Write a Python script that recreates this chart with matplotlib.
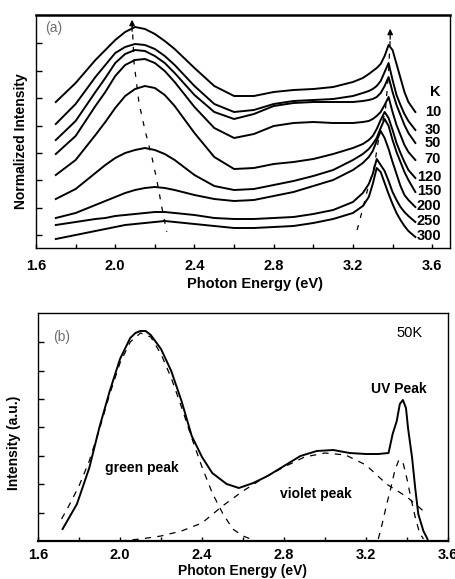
#!/usr/bin/env python3
"""Temperature dependent PL spectra (a) and 50K peak decomposition (b)."""

import matplotlib
matplotlib.use("Agg")
import matplotlib.pyplot as plt
from matplotlib.ticker import MultipleLocator

# ---- panel (a): stacked normalized spectra, offset units (arbitrary) ----
energy_a = [1.70, 1.80, 1.90, 1.95, 2.00, 2.05, 2.10, 2.15, 2.20, 2.25, 2.30,
            2.40, 2.50, 2.60, 2.70, 2.80, 2.90, 3.00, 3.10, 3.20, 3.25, 3.28,
            3.30, 3.32, 3.34, 3.36, 3.38, 3.40, 3.42, 3.44, 3.46, 3.48, 3.515]

temps = ["10", "30", "50", "70", "120", "150", "200", "250", "300"]

spectra_a = [
    [146, 165, 188, 198, 208, 216, 221, 219, 214, 207, 199, 180, 162, 152, 152, 156,
     158, 159, 161, 166, 170, 174, 177, 180, 184, 192, 203, 198, 184, 170, 156, 146, 136],
    [124, 144, 171, 183, 195, 201, 204, 203, 199, 192, 183, 162, 144, 136, 138, 144,
     147, 148, 149, 152, 155, 157, 159, 162, 167, 176, 185, 168, 153, 143, 134, 127, 118],
    [108, 127, 156, 170, 185, 194, 198, 197, 192, 185, 175, 153, 136, 129, 134, 142,
     145, 146, 146, 146, 147, 148, 149, 151, 155, 162, 171, 156, 143, 133, 123, 115, 105],
    [94, 112, 142, 156, 172, 183, 188, 189, 185, 177, 166, 141, 120, 110, 114, 122,
     125, 126, 125, 125, 126, 127, 129, 132, 136, 143, 151, 136, 123, 113, 103, 96, 88],
    [73, 88, 113, 126, 140, 152, 159, 162, 160, 153, 142, 115, 91, 79, 80, 84,
     86, 89, 94, 100, 104, 108, 112, 119, 128, 136, 130, 118, 105, 95, 86, 78, 70],
    [49, 59, 75, 83, 90, 95, 98, 100, 98, 94, 88, 73, 62, 58, 59, 63,
     67, 72, 78, 88, 94, 99, 104, 110, 120, 129, 122, 108, 96, 86, 76, 68, 56],
    [30, 35, 43, 47, 51, 55, 58, 60, 61, 60, 58, 53, 49, 47, 48, 52,
     56, 62, 68, 78, 85, 91, 97, 107, 117, 110, 99, 86, 74, 62, 53, 48, 41],
    [23, 26, 29, 30, 32, 33, 34, 35, 36, 36, 35, 33, 30, 29, 29, 30,
     31, 34, 38, 46, 55, 64, 74, 89, 83, 77, 67, 56, 48, 41, 36, 32, 26],
    [9, 13, 17, 19, 21, 23, 24, 25, 26, 27, 26, 24, 22, 20, 20, 21,
     22, 25, 29, 35, 42, 51, 64, 80, 76, 65, 54, 44, 35, 28, 22, 17, 11],
]

# label heights at the right edge, same offset units
temp_label_y = [136, 118, 105, 89, 71, 57, 42, 27, 12]

# peak position guides
green_shift_x = [2.085, 2.095, 2.12, 2.15, 2.185, 2.21, 2.235, 2.26]
green_shift_y = [226, 185, 145, 118, 91, 68, 41, 16]
uv_shift_x = [3.221, 3.252, 3.277, 3.307, 3.337, 3.363, 3.378, 3.388]
uv_shift_y = [18, 41, 61, 81, 118, 136, 171, 208]

# ---- panel (b): 50K spectrum and fitted components ----
energy_b = [1.72, 1.79, 1.85, 1.90, 1.95, 2.00, 2.05, 2.075, 2.10, 2.125, 2.15, 2.20,
            2.25, 2.30, 2.35, 2.40, 2.45, 2.52, 2.58, 2.65, 2.72, 2.80, 2.88, 2.96,
            3.04, 3.12, 3.20, 3.26, 3.31, 3.33, 3.35, 3.365, 3.38, 3.395, 3.405,
            3.425, 3.44, 3.455, 3.48, 3.50]
total_b = [12, 37, 73, 114, 150, 182, 203, 208, 210, 210, 206, 192,
           170, 140, 105, 84, 68, 57, 53, 58, 65, 75, 85, 90,
           91, 88, 87, 87, 88, 107, 120, 137, 141, 133, 113,
           83, 53, 27, 10, 2]

green_x = [1.715, 1.75, 1.80, 1.85, 1.90, 1.95, 2.00, 2.05, 2.10, 2.15, 2.20, 2.25,
           2.30, 2.35, 2.40, 2.45, 2.50, 2.55, 2.60, 2.65]
green_y = [22, 35, 55, 80, 112, 147, 178, 199, 208, 204, 187, 163,
           134, 103, 74, 48, 28, 12, 5, 1]

violet_x = [2.00, 2.10, 2.20, 2.30, 2.40, 2.50, 2.60, 2.70, 2.80, 2.90, 3.00, 3.10,
            3.20, 3.30, 3.40, 3.48]
violet_y = [0, 2, 5, 10, 18, 35, 50, 63, 74, 84, 88, 86, 76, 57, 44, 30]

uv_x = [3.26, 3.28, 3.30, 3.32, 3.34, 3.36, 3.38, 3.40, 3.42, 3.44, 3.46, 3.48]
uv_y = [2, 18, 36, 52, 70, 81, 79, 62, 42, 24, 9, 2]


def style_axis(ax, pad):
    ax.xaxis.set_major_locator(MultipleLocator(0.4))
    ax.xaxis.set_minor_locator(MultipleLocator(0.2))
    ax.xaxis.set_major_formatter(plt.FuncFormatter(lambda v, _: f"{v:.1f}"))
    ax.tick_params(axis="both", which="both", direction="in", length=3, width=1)
    ax.tick_params(axis="x", labelsize=10.5, pad=pad)
    ax.tick_params(axis="y", labelleft=False, length=4)
    for lab in ax.get_xticklabels():
        lab.set_fontweight("bold")
    for sp in ax.spines.values():
        sp.set_linewidth(1.0)


plt.rcParams["font.family"] = ["Liberation Sans", "DejaVu Sans"]

fig = plt.figure(figsize=(4.56, 5.79), dpi=100)

# ---------------- (a) ----------------
ax = fig.add_axes([36 / 456, 1 - 248 / 579, 414 / 456, 233 / 579])
for ys in spectra_a:
    ax.plot(energy_a, ys, color="black", lw=1.4)
ax.plot(green_shift_x, green_shift_y, color="black", lw=0.9, ls=(0, (4, 6)))
ax.plot(uv_shift_x, uv_shift_y, color="black", lw=0.9, ls=(0, (4, 6)))
ax.annotate("", xy=(2.085, 231), xytext=(2.085, 214),
            arrowprops=dict(arrowstyle="-|>", color="black", lw=0.9, mutation_scale=8))
ax.annotate("", xy=(3.388, 222), xytext=(3.388, 206),
            arrowprops=dict(arrowstyle="-|>", color="black", lw=0.9, mutation_scale=8))

ax.text(3.645, 156, "K", ha="right", va="center", fontsize=10.5, fontweight="bold")
for t, y in zip(temps, temp_label_y):
    ax.text(3.645, y, t, ha="right", va="center", fontsize=10.5, fontweight="bold")
ax.text(1.691, 220, "(a)", ha="center", va="center", fontsize=10, color="#707070")

ax.set_xlim(1.6, 3.69)
ax.set_ylim(0, 233)
ax.set_yticks([13, 40, 68, 95, 122, 150, 177, 205])
style_axis(ax, pad=8)
ax.spines["top"].set_linewidth(1.8)
ax.set_xlabel("Photon Energy (eV)", fontsize=10.5, fontweight="bold")
ax.xaxis.set_label_coords(0.528, -0.125)
ax.set_ylabel("Normalized Intensity", fontsize=10, fontweight="bold")
ax.yaxis.set_label_coords(-0.019, 0.46)

# ---------------- (b) ----------------
bx = fig.add_axes([38 / 456, 1 - 541 / 579, 410 / 456, 228 / 579])
bx.plot(energy_b, total_b, color="black", lw=1.4)
for xs, ys in [(green_x, green_y), (violet_x, violet_y), (uv_x, uv_y)]:
    bx.plot(xs, ys, color="black", lw=0.9, ls=(0, (5, 5)))

bx.text(1.717, 204, "(b)", ha="center", va="center", fontsize=10, color="#707070")
bx.text(3.41, 208, "50K", ha="center", va="center", fontsize=10.5)
bx.text(3.361, 152, "UV Peak", ha="center", va="center", fontsize=10, fontweight="bold")
bx.text(2.107, 73, "green peak", ha="center", va="center", fontsize=10, fontweight="bold")
bx.text(2.956, 47, "violet peak", ha="center", va="center", fontsize=10, fontweight="bold")

bx.set_xlim(1.6, 3.6)
bx.set_ylim(0, 228)
bx.set_yticks([28, 57, 85, 114, 142, 170, 199])
style_axis(bx, pad=5)
bx.spines["bottom"].set_linewidth(1.6)
bx.set_xlabel("Photon Energy (eV)", fontsize=10, fontweight="bold")
bx.xaxis.set_label_coords(0.5, -0.1)
bx.set_ylabel("Intensity (a.u.)", fontsize=10, fontweight="bold")
bx.yaxis.set_label_coords(-0.041, 0.43)

fig.savefig("out.png", dpi=100)
